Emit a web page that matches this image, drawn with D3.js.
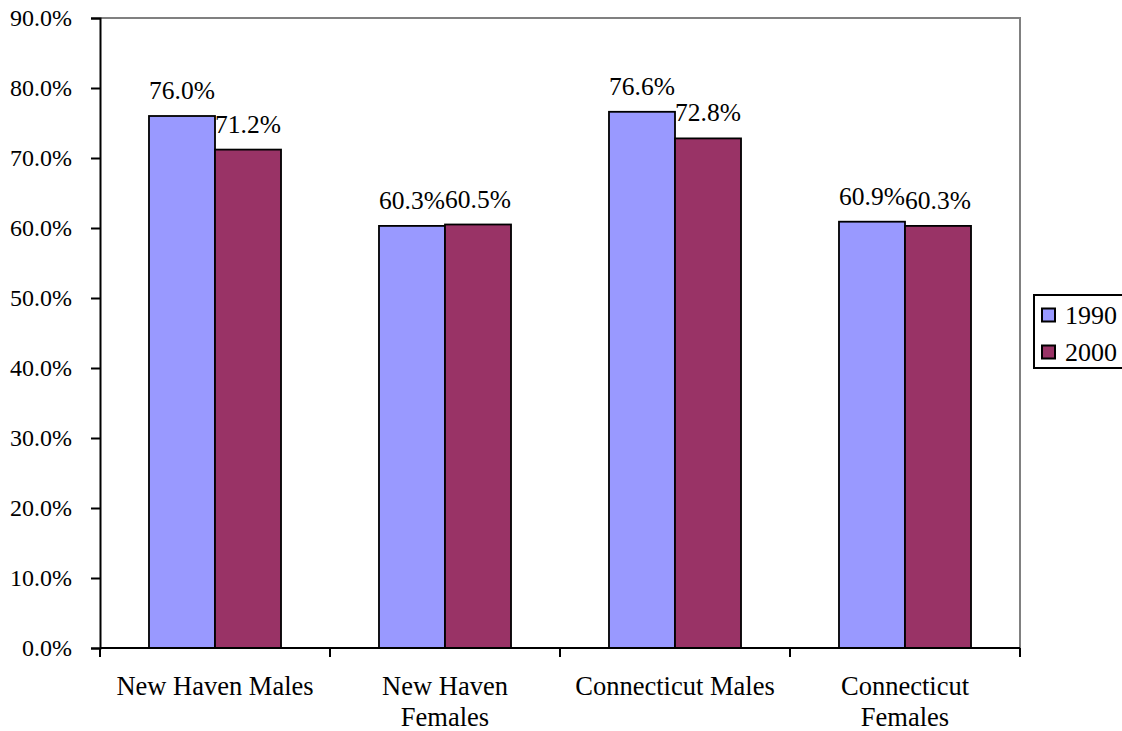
<!DOCTYPE html>
<html>
<head>
<meta charset="utf-8">
<script src="https://cdn.jsdelivr.net/npm/d3@7"></script>
<style>
  html, body { margin: 0; padding: 0; background: #fff; }
  svg { display: block; }
  svg text { font-family: 'Liberation Serif', 'Times New Roman', Times, 'DejaVu Serif', serif; }
</style>
</head>
<body>
<svg id="chart" width="1122" height="731"></svg>
<script>
// Labour force participation by group, 1990 vs 2000
const categories = ["New Haven Males", "New Haven Females", "Connecticut Males", "Connecticut Females"];
const seriesNames = ["1990", "2000"];
const values1990 = [0.760, 0.603, 0.766, 0.609];
const values2000 = [0.712, 0.605, 0.728, 0.603];
const yTicks = [0, 0.1, 0.2, 0.3, 0.4, 0.5, 0.6, 0.7, 0.8, 0.9];
const colors = ["#9999ff", "#993366"];

const FONT = "'Liberation Serif', 'Times New Roman', Times, 'DejaVu Serif', serif";

const svg = d3.select("#chart");
const plot = { left: 100, right: 1020, top: 18, bottom: 648 };

const y = d3.scaleLinear().domain([0, 0.9]).range([plot.bottom, plot.top]);
const x0 = d3.scaleBand().domain(categories).range([plot.left, plot.right]).padding(0);
const x1 = d3.scaleBand().domain(seriesNames).range([0, x0.bandwidth()])
  .paddingInner(0).paddingOuter(0.742);

const fmt = d3.format(".1%");
const seriesValues = [values1990, values2000];

// plot frame: grey top and right edges
svg.append("path")
  .attr("d", `M${plot.left},${plot.top}H${plot.right}V${plot.bottom}`)
  .attr("fill", "none").attr("stroke", "#808080").attr("stroke-width", 2);

// bars
const groups = svg.append("g").selectAll("g")
  .data(categories).join("g")
  .attr("transform", d => `translate(${x0(d)},0)`);

groups.selectAll("rect")
  .data((d, i) => seriesNames.map((s, j) => ({ s, v: seriesValues[j][i] })))
  .join("rect")
  .attr("x", d => x1(d.s))
  .attr("y", d => y(d.v))
  .attr("width", x1.bandwidth())
  .attr("height", d => y(0) - y(d.v))
  .attr("fill", (d, j) => colors[j])
  .attr("stroke", "#000").attr("stroke-width", 1.8);

// value labels
groups.selectAll("text.val")
  .data((d, i) => seriesNames.map((s, j) => ({ s, v: seriesValues[j][i] })))
  .join("text").attr("class", "val")
  .attr("x", d => x1(d.s) + x1.bandwidth() / 2)
  .attr("y", d => y(d.v) - 17)
  .attr("text-anchor", "middle")
  .style("font-family", FONT)
  .style("font-size", "25.5px")
  .attr("fill", "#000")
  .text(d => fmt(d.v));

// y axis
const yAxis = svg.append("g")
  .attr("transform", `translate(${plot.left},0)`)
  .call(d3.axisLeft(y).tickValues(yTicks).tickFormat(fmt).tickSize(9).tickPadding(19));
yAxis.attr("font-family", null).attr("font-size", null);
yAxis.select(".domain").attr("stroke", "#000").attr("stroke-width", 2);
yAxis.selectAll(".tick line").attr("stroke", "#000").attr("stroke-width", 2);
yAxis.selectAll(".tick text")
  .style("font-family", FONT).style("font-size", "24px")
  .attr("fill", "#000");

// x axis: ticks sit on category boundaries
const boundaries = categories.map(c => x0(c)).concat([x0(categories[categories.length - 1]) + x0.bandwidth()]);
const xAxis = svg.append("g");
xAxis.append("line")
  .attr("x1", plot.left).attr("x2", plot.right)
  .attr("y1", plot.bottom).attr("y2", plot.bottom)
  .attr("stroke", "#000").attr("stroke-width", 2);
xAxis.selectAll("line.tick")
  .data(boundaries).join("line").attr("class", "tick")
  .attr("x1", d => d).attr("x2", d => d)
  .attr("y1", plot.bottom).attr("y2", plot.bottom + 9)
  .attr("stroke", "#000").attr("stroke-width", 2);

// category labels, wrapped to the band width
const catLabels = xAxis.selectAll("text.cat")
  .data(categories).join("text").attr("class", "cat")
  .attr("x", d => x0(d) + x0.bandwidth() / 2)
  .attr("y", 695)
  .attr("text-anchor", "middle")
  .style("font-family", FONT)
  .style("font-size", "26.5px")
  .attr("fill", "#000");

catLabels.each(function(d) {
  const el = d3.select(this);
  const words = d.split(" ");
  const maxW = x0.bandwidth() - 16;
  let line = [];
  let lines = [];
  const probe = el.append("tspan");
  words.forEach(w => {
    const trial = line.concat([w]).join(" ");
    probe.text(trial);
    if (probe.node().getComputedTextLength() > maxW && line.length) {
      lines.push(line.join(" "));
      line = [w];
    } else {
      line.push(w);
    }
  });
  lines.push(line.join(" "));
  probe.remove();
  const cx = el.attr("x");
  lines.forEach((t, k) => {
    el.append("tspan").attr("x", cx).attr("dy", k === 0 ? 0 : 31).text(t);
  });
});

// legend
const legend = svg.append("g").attr("transform", "translate(1034,295)");
legend.append("rect")
  .attr("x", 0).attr("y", 0).attr("width", 100).attr("height", 73)
  .attr("fill", "#fff").attr("stroke", "#000").attr("stroke-width", 2);
const items = legend.selectAll("g.item")
  .data(seriesNames).join("g").attr("class", "item")
  .attr("transform", (d, i) => `translate(0,${20 + i * 37})`);
items.append("rect")
  .attr("x", 8).attr("y", -6.5).attr("width", 13).attr("height", 13)
  .attr("fill", (d, i) => colors[i]).attr("stroke", "#000").attr("stroke-width", 2);
items.append("text")
  .attr("x", 31).attr("y", 9)
  .style("font-family", FONT).style("font-size", "26px")
  .attr("fill", "#000")
  .text(d => d);
</script>
</body>
</html>
